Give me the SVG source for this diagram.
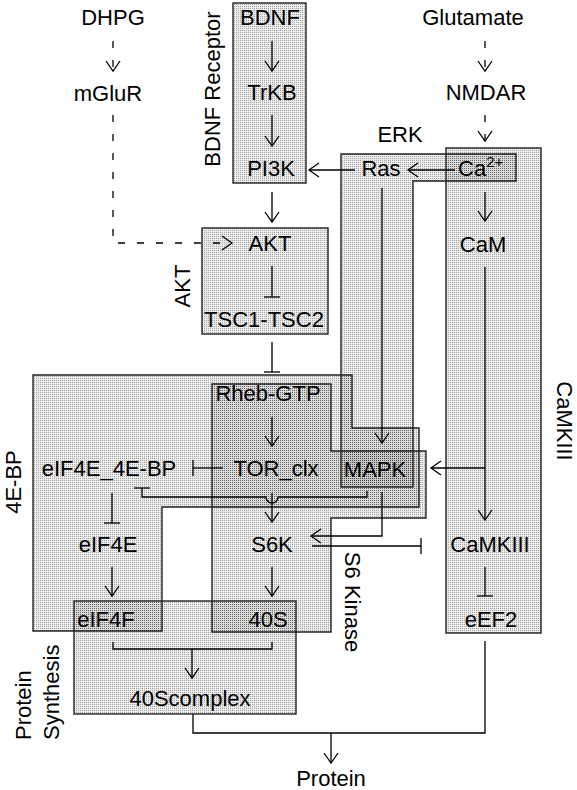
<svg xmlns="http://www.w3.org/2000/svg" width="577" height="790" viewBox="0 0 577 790">
<defs>
<pattern id="dots" width="2" height="2" patternUnits="userSpaceOnUse">
<rect width="2" height="2" fill="#000" fill-opacity="0.08"/>
<rect width="1" height="1" fill="#000" fill-opacity="0.3"/>
</pattern>
<marker id="arr" markerUnits="userSpaceOnUse" markerWidth="12" markerHeight="16" refX="10" refY="7" orient="auto" overflow="visible">
<path d="M0,0 L10,7 L0,14" fill="none" stroke="#000" stroke-width="1.3"/>
</marker>
<marker id="tee" markerUnits="userSpaceOnUse" markerWidth="3" markerHeight="18" refX="0" refY="8" orient="auto" overflow="visible">
<path d="M0,0 V16" fill="none" stroke="#000" stroke-width="1.3"/>
</marker>
</defs>
<style>
.mod{fill:url(#dots);stroke:#222;stroke-width:1.4}
text{font-family:"Liberation Sans",Arial,sans-serif;font-size:22px;fill:#000}
.c{text-anchor:middle}
.ln{fill:none;stroke:#000;stroke-width:1.3}
.dash{stroke-dasharray:7 12}
.a{marker-end:url(#arr)}
.t{marker-end:url(#tee)}
</style>
<g id="modules">
<g id="mod-4EBP"><path class="mod" d="M33,375 H352 V428 H419 V507 H162 V631 H33 Z"/><text class="c" transform="translate(21,482) rotate(-90)">4E-BP</text></g>
<g id="mod-S6Kinase"><path class="mod" d="M212,384 H331 V451 H426 V518 H331 V632 H212 Z"/><text class="c" transform="translate(345,602) rotate(90)">S6 Kinase</text></g>
<g id="mod-ERK"><path class="mod" d="M341,154 H516 V181 H413 V487 H341 Z"/><text class="c" x="400" y="142">ERK</text></g>
<g id="mod-CaMKIII"><rect class="mod" x="446" y="148" width="95" height="485"/><text class="c" transform="translate(557,421) rotate(90)">CaMKIII</text></g>
<g id="mod-BDNFReceptor"><rect class="mod" x="233" y="3" width="73" height="180"/><text class="c" transform="translate(220,89) rotate(-90)">BDNF Receptor</text></g>
<g id="mod-AKT"><rect class="mod" x="202" y="228" width="126" height="106"/><text class="c" transform="translate(190,286) rotate(-90)">AKT</text></g>
<g id="mod-ProteinSynthesis"><rect class="mod" x="74" y="601" width="222" height="113"/><text transform="translate(31,740) rotate(-90)">Protein</text><text transform="translate(59,740) rotate(-90)">Synthesis</text></g>
</g>
<g id="connectors">
<path class="ln dash a" d="M113,41 V71"/>
<path class="ln dash a" d="M113,115 V243 H232"/>
<path class="ln dash a" d="M485,41 V71"/>
<path class="ln dash a" d="M485,115 V141"/>
<path class="ln a" d="M272,41 V71"/>
<path class="ln a" d="M272,115 V146"/>
<path class="ln a" d="M272,192 V222"/>
<path class="ln t" d="M272,266 V297"/>
<path class="ln t" d="M272,342 V372"/>
<path class="ln a" d="M455,170 H408"/>
<path class="ln a" d="M355,170 H309"/>
<path class="ln a" d="M382,188 V443"/>
<path class="ln a" d="M485,192 V221"/>
<path class="ln a" d="M485,267 V520"/>
<path class="ln a" d="M485,468 H431"/>
<path class="ln a" d="M272,417 V446"/>
<path class="ln t" d="M223,468 H193"/>
<path class="ln t" d="M367,491 V497 H278 A6,6 0 0 1 266,497 H142 V488"/>
<path class="ln a" d="M272,493 V522"/>
<path class="ln a" d="M382,492 V536 H311"/>
<path class="ln t" d="M312,546 H421"/>
<path class="ln t" d="M112,493 V523"/>
<path class="ln a" d="M112,567 V596"/>
<path class="ln a" d="M272,567 V596"/>
<path class="ln t" d="M485,567 V596"/>
<path class="ln" d="M113,642 V649 H272 V642"/>
<path class="ln a" d="M192,649 V678"/>
<path class="ln" d="M193,714 V733 H485 V641"/>
<path class="ln a" d="M331,733 V763"/>
</g>
<g id="nodes">
<g id="n-DHPG"><text class="c" x="113" y="25">DHPG</text></g>
<g id="n-mGluR"><text class="c" x="108" y="101">mGluR</text></g>
<g id="n-BDNF"><text class="c" x="270" y="25">BDNF</text></g>
<g id="n-TrKB"><text class="c" x="272" y="100">TrKB</text></g>
<g id="n-PI3K"><text class="c" x="271" y="176">PI3K</text></g>
<g id="n-Glutamate"><text class="c" x="473" y="25">Glutamate</text></g>
<g id="n-NMDAR"><text class="c" x="486" y="100">NMDAR</text></g>
<g id="n-Ras"><text class="c" x="381" y="176">Ras</text></g>
<g id="n-Ca"><text x="458" y="176">Ca<tspan dy="-9" font-size="15">2+</tspan></text></g>
<g id="n-CaM"><text class="c" x="483" y="252">CaM</text></g>
<g id="n-AKT"><text class="c" x="270" y="251">AKT</text></g>
<g id="n-TSC"><text class="c" x="264" y="327">TSC1-TSC2</text></g>
<g id="n-Rheb"><text class="c" x="268" y="401">Rheb-GTP</text></g>
<g id="n-TOR"><text class="c" x="276" y="476">TOR_clx</text></g>
<g id="n-eIF4E4EBP"><text class="c" x="109" y="476">eIF4E_4E-BP</text></g>
<g id="n-MAPK"><text class="c" x="375" y="477">MAPK</text></g>
<g id="n-eIF4E"><text class="c" x="108" y="552">eIF4E</text></g>
<g id="n-S6K"><text class="c" x="272" y="552">S6K</text></g>
<g id="n-CaMKIII"><text class="c" x="490" y="552">CaMKIII</text></g>
<g id="n-eEF2"><text class="c" x="491" y="627">eEF2</text></g>
<g id="n-eIF4F"><text class="c" x="106" y="627">eIF4F</text></g>
<g id="n-40S"><text class="c" x="268" y="627">40S</text></g>
<g id="n-40Scomplex"><text class="c" x="190" y="706">40Scomplex</text></g>
<g id="n-Protein"><text class="c" x="331" y="786">Protein</text></g>
</g>
</svg>
